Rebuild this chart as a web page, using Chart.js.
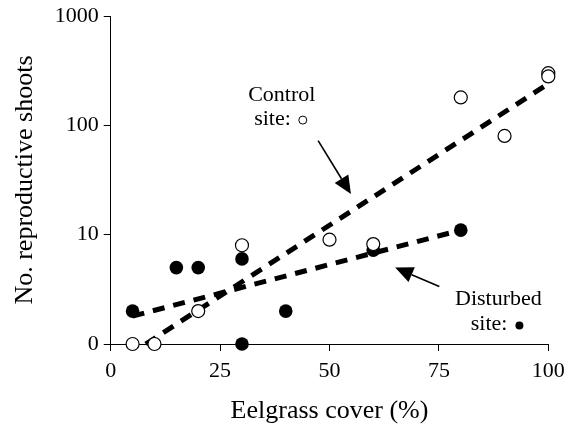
<!DOCTYPE html>
<html>
<head>
<meta charset="utf-8">
<script src="https://cdn.jsdelivr.net/npm/chart.js@4.4.0/dist/chart.umd.min.js"></script>
<style>
html,body{margin:0;padding:0;background:#fff;}
#wrap{width:569px;height:427px;position:relative;}
</style>
</head>
<body>
<div id="wrap"><canvas id="c" width="569" height="427"></canvas></div>
<script>
// ---- data (0 shoots is drawn on the "0" baseline of the log axis) ----
const controlCover  = [5, 10, 20, 30, 50, 60, 80, 90, 100, 100];
const controlShoots = [0, 0, 2, 8, 9, 8.2, 180, 80, 300, 280];
const disturbedCover  = [5, 15, 20, 30, 30, 40, 60, 80];
const disturbedShoots = [2, 5, 5, 6, 0, 2, 7.2, 11];
// fitted trend lines (end points)
const controlFitCover  = [8, 100];
const controlFitShoots = [0, 240];
const disturbedFitCover  = [5, 80];
const disturbedFitShoots = [1.8, 11];
const xTicks = [0, 25, 50, 75, 100];
const yTicks = [0, 10, 100, 1000];

const base = v => (v === 0 ? 1 : v);
const pts = (xs, ys) => xs.map((x, i) => ({x: x, y: base(ys[i])}));
const FONT = "'Liberation Serif', 'Times New Roman', serif";

const annot = {
  id: 'annot',
  afterDatasetsDraw(chart) {
    const {ctx, scales: {x, y}} = chart;
    const P = (a, b) => [x.getPixelForValue(a), y.getPixelForValue(b)];
    ctx.save();
    ctx.fillStyle = '#000';
    ctx.strokeStyle = '#000';
    ctx.font = '22px ' + FONT;
    ctx.textAlign = 'center';
    ctx.textBaseline = 'middle';
    // Control label
    let [cx, cy] = P(39.1, 189);
    ctx.fillText('Control', cx, cy);
    const sy = cy + 24;
    ctx.textAlign = 'right';
    ctx.fillText('site:', cx + 9, sy);
    ctx.lineWidth = 1;
    ctx.beginPath(); ctx.arc(cx + 21, sy + 1, 4, 0, Math.PI * 2); ctx.stroke();
    // Disturbed label
    ctx.textAlign = 'center';
    let [dx, dy] = P(88.6, 2.55);
    ctx.fillText('Disturbed', dx, dy);
    ctx.textAlign = 'right';
    ctx.fillText('site:', dx + 9, dy + 25);
    ctx.beginPath(); ctx.arc(dx + 21, dy + 26, 4, 0, Math.PI * 2); ctx.fill();
    // arrows
    const arrow = (a, b) => {
      const [x1, y1] = a, [x2, y2] = b;
      const ang = Math.atan2(y2 - y1, x2 - x1);
      const L = 18, W = 8;
      const bx = x2 - L * Math.cos(ang), by = y2 - L * Math.sin(ang);
      ctx.lineWidth = 1.6;
      ctx.beginPath(); ctx.moveTo(x1, y1); ctx.lineTo(bx, by); ctx.stroke();
      ctx.beginPath();
      ctx.moveTo(x2, y2);
      ctx.lineTo(bx + W * Math.sin(ang), by - W * Math.cos(ang));
      ctx.lineTo(bx - W * Math.sin(ang), by + W * Math.cos(ang));
      ctx.closePath(); ctx.fill();
    };
    arrow(P(47.4, 72.4), P(54.9, 23.5));
    arrow(P(75.1, 3.35), P(65.0, 5.0));
    ctx.restore();
  }
};

new Chart(document.getElementById('c'), {
  type: 'scatter',
  data: {
    datasets: [
      {
        label: 'Control', data: pts(controlCover, controlShoots), clip: false,
        pointRadius: 6.5, pointHoverRadius: 6.5,
        pointBackgroundColor: '#fff', pointBorderColor: '#000', pointBorderWidth: 1.2, order: 1
      },
      {
        label: 'Disturbed', data: pts(disturbedCover, disturbedShoots), clip: false,
        pointRadius: 6.8, pointHoverRadius: 6.8,
        pointBackgroundColor: '#000', pointBorderColor: '#000', pointBorderWidth: 0, order: 2
      },
      {
        label: 'Control fit', data: pts(controlFitCover, controlFitShoots), showLine: true, clip: false,
        borderColor: '#000', borderWidth: 5, borderDash: [12, 9], pointRadius: 0, order: 3
      },
      {
        label: 'Disturbed fit', data: pts(disturbedFitCover, disturbedFitShoots), showLine: true, clip: false,
        borderColor: '#000', borderWidth: 5, borderDash: [12, 9], pointRadius: 0, order: 3
      }
    ]
  },
  options: {
    responsive: false, animation: false, devicePixelRatio: 1,
    layout: {padding: {top: 16, right: 20.7, left: 0, bottom: 0}},
    plugins: {legend: {display: false}, tooltip: {enabled: false}},
    scales: {
      x: {
        type: 'linear', min: 0, max: 100,
        afterBuildTicks: s => { s.ticks = xTicks.map(v => ({value: v})); },
        afterFit: s => { s.height = 83; s.paddingLeft = 0; s.paddingRight = 0; },
        grid: {drawOnChartArea: false, drawTicks: true, tickLength: 7, color: '#000', lineWidth: 1},
        border: {display: true, color: '#000', width: 1},
        ticks: {color: '#000', font: {family: FONT, size: 22}, padding: 7, maxRotation: 0},
        title: {display: true, text: 'Eelgrass cover (%)', color: '#000', font: {family: FONT, size: 26}, padding: {top: 4, bottom: 0}}
      },
      y: {
        type: 'logarithmic', min: 1, max: 1000,
        afterBuildTicks: s => { s.ticks = yTicks.map(v => ({value: base(v)})); },
        afterFit: s => { s.width = 110.7; s.paddingTop = 0; s.paddingBottom = 0; },
        grid: {drawOnChartArea: false, drawTicks: true, tickLength: 7, color: '#000', lineWidth: 1},
        border: {display: true, color: '#000', width: 1},
        ticks: {color: '#000', font: {family: FONT, size: 22}, padding: 5,
          callback: v => (v === 1 ? '0' : String(v))},
        title: {display: true, text: 'No. reproductive shoots', color: '#000', font: {family: FONT, size: 26}, padding: {top: 10, bottom: 4}}
      }
    }
  },
  plugins: [annot]
});
</script>
</body>
</html>
